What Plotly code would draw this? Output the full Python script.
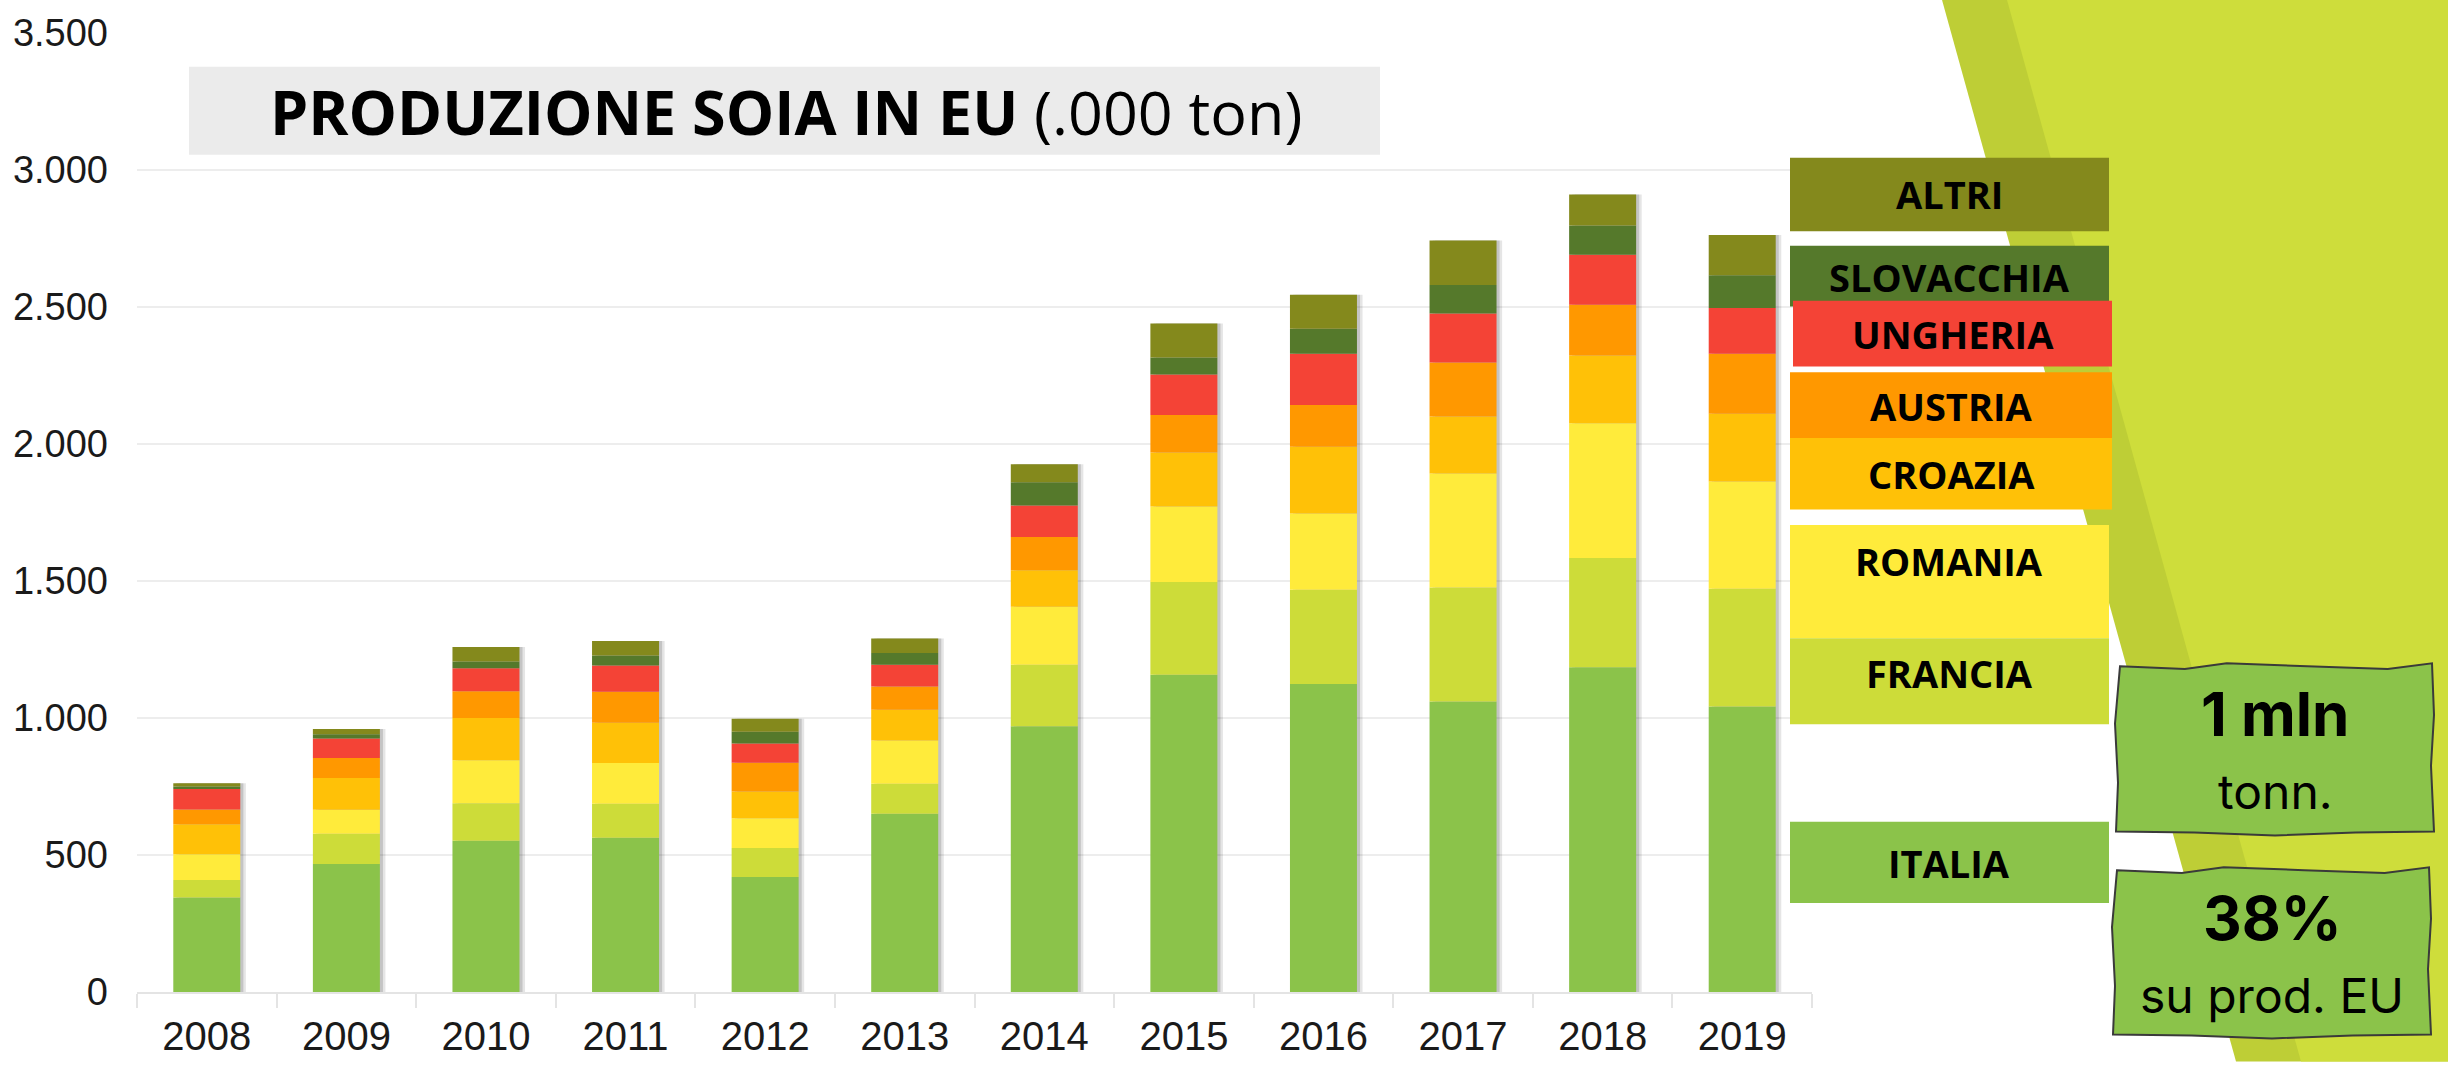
import plotly.graph_objects as go

# produzione soia, migliaia di tonnellate
anni = ['2008', '2009', '2010', '2011', '2012', '2013',
        '2014', '2015', '2016', '2017', '2018', '2019']
italia = [345, 467, 552, 563, 420, 651, 970, 1158, 1124, 1060, 1185, 1042]
francia = [64, 111, 137, 124, 106, 109, 224, 338, 344, 416, 399, 430]
romania = [94, 87, 157, 149, 108, 158, 212, 276, 278, 416, 492, 391]
croazia = [109, 116, 154, 147, 98, 112, 133, 197, 244, 208, 247, 247]
austria = [54, 73, 98, 113, 105, 85, 122, 137, 152, 197, 185, 219]
ungheria = [75, 71, 84, 96, 70, 79, 115, 148, 187, 179, 183, 167]
slovacchia = [9, 16, 24, 36, 43, 43, 84, 62, 92, 104, 106, 120]
altri = [12, 19, 53, 53, 47, 53, 66, 124, 124, 163, 114, 147]

y_ticks = [0, 500, 1000, 1500, 2000, 2500, 3000, 3500]

serie = [
    ('ITALIA', italia, '#8BC34A'),
    ('FRANCIA', francia, '#CDDC39'),
    ('ROMANIA', romania, '#FFEB3B'),
    ('CROAZIA', croazia, '#FFC107'),
    ('AUSTRIA', austria, '#FF9800'),
    ('UNGHERIA', ungheria, '#F44336'),
    ('SLOVACCHIA', slovacchia, '#55792B'),
    ('ALTRI', altri, '#84891C'),
]

W, H = 2448, 1070
L, R, T, B = 137, 1812, 26, 1018  # plot area in pixels


def px(x):
    return (x - L) / (R - L)


def py(y):
    return (B - y) / (B - T)


bar_w = 0.48
totali = [sum(v) for v in zip(*[s[1] for s in serie])]

fig = go.Figure()

# ombra delle colonne
fig.add_trace(go.Bar(x=anni, y=totali, width=bar_w, offset=-bar_w / 2 + 0.04,
                     marker=dict(color='rgba(0,0,0,0.10)', line_width=0),
                     hoverinfo='skip', showlegend=False))
fig.add_trace(go.Bar(x=anni, y=totali, width=bar_w, offset=-bar_w / 2 + 0.022,
                     marker=dict(color='rgba(0,0,0,0.14)', line_width=0),
                     hoverinfo='skip', showlegend=False))

base = [0] * len(anni)
for nome, valori, colore in serie:
    fig.add_trace(go.Bar(x=anni, y=valori, base=list(base), name=nome,
                         width=bar_w, offset=-bar_w / 2,
                         marker=dict(color=colore, line_width=0)))
    base = [b + v for b, v in zip(base, valori)]

shapes = []
annotations = []

# sfondo verde a destra
shapes.append(dict(type='path', xref='paper', yref='paper', layer='below',
                   path='M %f,%f L %f,%f L %f,%f L %f,%f Z' % (
                       px(1941), py(-12), px(W + 10), py(-12), px(W + 10), py(H + 20), px(2236), py(H + 20)),
                   fillcolor='#BECE36', line_width=0))
shapes.append(dict(type='path', xref='paper', yref='paper', layer='below',
                   path='M %f,%f L %f,%f L %f,%f L %f,%f Z' % (
                       px(2006), py(-12), px(W + 10), py(-12), px(W + 10), py(H + 20), px(2301), py(H + 20)),
                   fillcolor='#CEDD3B', line_width=0))

# titolo
shapes.append(dict(type='rect', xref='paper', yref='paper', layer='above',
                   x0=px(189), x1=px(1380), y0=py(152), y1=py(61),
                   fillcolor='#EBEBEB', line_width=0))
annotations.append(dict(xref='paper', yref='paper', x=px(786), y=py(107),
                        text='<b>PRODUZIONE SOIA IN EU</b> (.000 ton)', showarrow=False,
                        font=dict(family='Open Sans', size=61, color='#000000'),
                        xanchor='center', yanchor='middle'))

# etichette della legenda
legenda = [
    ('ALTRI', '#84891C', 1790, 2109, 155, 231, 193),
    ('SLOVACCHIA', '#55792B', 1790, 2109, 246, 309, 278),
    ('UNGHERIA', '#F44336', 1793, 2112, 303, 371, 337),
    ('AUSTRIA', '#FF9800', 1790, 2112, 377, 445, 412),
    ('CROAZIA', '#FFC107', 1790, 2112, 445, 519, 482),
    ('ROMANIA', '#FFEB3B', 1790, 2109, 535, 652, 572),
    ('FRANCIA', '#CDDC39', 1790, 2109, 652, 741, 688),
    ('ITALIA', '#8BC34A', 1790, 2109, 842, 926, 885),
]
for nome, colore, x0, x1, y0, y1, ty in legenda:
    shapes.append(dict(type='rect', xref='paper', yref='paper', layer='above',
                       x0=px(x0), x1=px(x1), y0=py(y1), y1=py(y0),
                       fillcolor=colore, line_width=0))
    annotations.append(dict(xref='paper', yref='paper', x=px((x0 + x1) / 2), y=py(ty),
                            text='<b>%s</b>' % nome, showarrow=False,
                            font=dict(family='Open Sans', size=38, color='#000000'),
                            xanchor='center', yanchor='middle'))


def box_mosso(x0, y0, x1, y1):
    # riquadro disegnato a mano, bordi leggermente ondulati
    w, h = x1 - x0, y1 - y0
    pts = [
        (x0 + 6, y0 + 2), (x0 + 0.22 * w, y0 + 5), (x0 + 0.35 * w, y0 - 1),
        (x0 + 0.6 * w, y0 + 2), (x0 + 0.85 * w, y0 + 5), (x1 - 4, y0 - 1),
        (x1 - 2, y0 + 0.3 * h), (x1 - 5, y0 + 0.6 * h), (x1 - 2, y1 - 2),
        (x0 + 0.75 * w, y1 - 1), (x0 + 0.5 * w, y1 + 2), (x0 + 0.25 * w, y1 - 1),
        (x0 + 2, y1 - 2), (x0 + 4, y0 + 0.7 * h), (x0 + 1, y0 + 0.35 * h),
    ]
    p = 'M %f,%f' % (px(pts[0][0]), py(pts[0][1]))
    for x, y in pts[1:]:
        p += ' L %f,%f' % (px(x), py(y))
    return p + ' Z'


for (x0, y0, x1, y1), big, small in [((2114, 679, 2436, 854), '1 mln', 'tonn.'),
                                      ((2111, 890, 2433, 1064), '38%', 'su prod. EU')]:
    shapes.append(dict(type='path', xref='paper', yref='paper', layer='above',
                       path=box_mosso(x0, y0, x1, y1),
                       fillcolor='#8BC34A', line=dict(color='#3a3a3a', width=2)))
    annotations.append(dict(xref='paper', yref='paper', x=px((x0 + x1) / 2), y=py(y0 + 51),
                            text='<b>%s</b>' % big, showarrow=False,
                            font=dict(family='Inter', size=60, color='#000000'),
                            xanchor='center', yanchor='middle'))
    annotations.append(dict(xref='paper', yref='paper', x=px((x0 + x1) / 2), y=py(y0 + 132),
                            text=small, showarrow=False,
                            font=dict(family='Inter', size=48, color='#000000'),
                            xanchor='center', yanchor='middle'))

fig.update_layout(
    width=W, height=H,
    barmode='overlay',
    showlegend=False,
    separators=',.',
    paper_bgcolor='white', plot_bgcolor='white',
    margin=dict(l=L, r=W - R, t=T, b=H - B, pad=0),
    xaxis=dict(type='category', categoryorder='array', categoryarray=anni,
               showgrid=False, showline=True, linecolor='#E4E4E4', linewidth=2,
               ticks='outside', tickson='boundaries', ticklen=14, tickwidth=2,
               tickcolor='#E4E4E4', ticklabelstandoff=8,
               tickfont=dict(family='Liberation Sans', size=40, color='#1a1a1a'),
               range=[-0.5, 11.5]),
    yaxis=dict(range=[0, 3500], tickvals=y_ticks, tickformat=',d',
               showgrid=True, gridcolor='#EDEDED', gridwidth=2,
               zeroline=False, showline=False, ticks='',
               ticklabelstandoff=28,
               tickfont=dict(family='Liberation Sans', size=38, color='#1a1a1a')),
    shapes=shapes,
    annotations=annotations,
)

fig.write_html('out.html', config={'displayModeBar': False},
               post_script="document.body.style.margin='0';document.body.style.overflow='hidden';")
